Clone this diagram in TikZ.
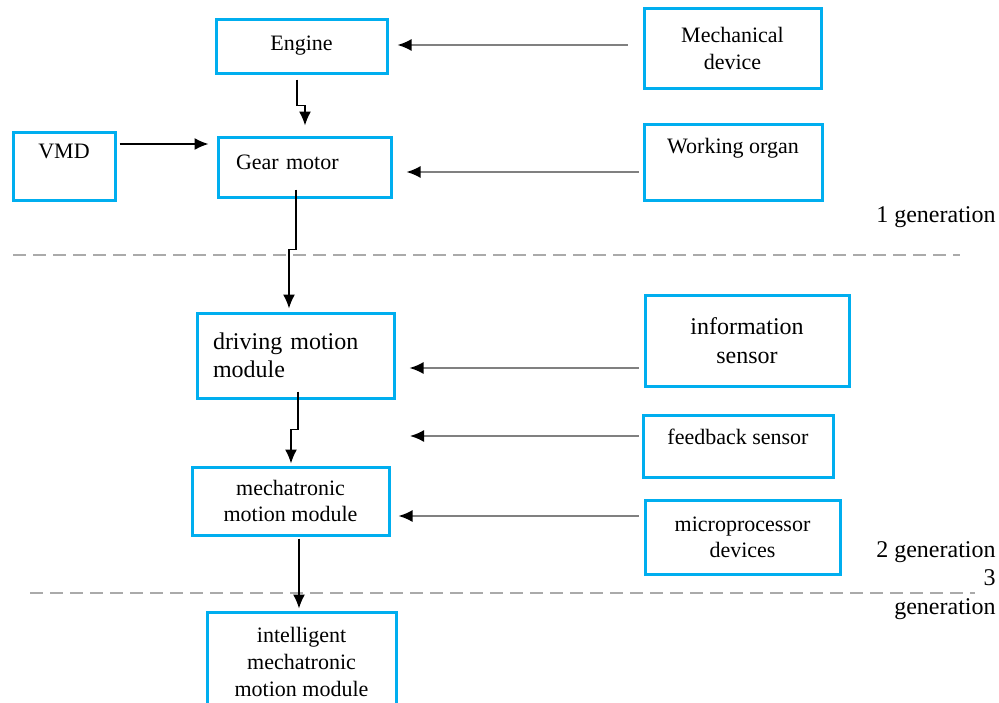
\documentclass[tikz,border=0pt]{standalone}
\usepackage{fontspec}
\setmainfont{Liberation Serif}
\usetikzlibrary{arrows.meta}
\definecolor{cbox}{RGB}{0,174,239}
\definecolor{cline}{RGB}{128,128,128}
\definecolor{cdash}{RGB}{170,170,170}

\begin{document}
\begin{tikzpicture}[
  x = 0.5pt, y = -0.5pt,
  box/.style    = {rectangle, draw=cbox, line width=1.5pt, inner sep=0pt,
                   align=center, font=\fontsize{11}{13.5}\selectfont},
  harr/.style   = {-{Latex[black, length=7pt, width=6pt]}, cline, line width=0.9pt},
  varr/.style   = {-{Latex[length=7pt, width=6pt]}, black, line width=0.7pt},
  sep/.style    = {cdash, line width=1pt, dash pattern=on 6.5pt off 3.5pt},
  genlbl/.style = {anchor=east, align=right, inner sep=0pt,
                   font=\fontsize{12}{14.5}\selectfont},
]
\useasboundingbox (0,0) rectangle (999,702);
\clip (0,0) rectangle (999,702);
\node[box, minimum width=85.5pt, minimum height=27pt] (engine) at (301.5,46) {Engine};
\node[box, minimum width=88.5pt, minimum height=40pt] (mech) at (732.5,48) {Mechanical\\device};
\node[box, minimum width=89pt, minimum height=38pt,
      text height=8pt, text depth=17pt] (organ) at (733,162) {Working organ};
\node[box, minimum width=51pt, minimum height=34pt,
      text height=8pt, text depth=16pt] (vmd) at (64,166) {VMD};
\node[box, align=left, text width=68.5pt, inner xsep=9pt, minimum height=30pt,
      text height=8pt, text depth=6pt] (gear) at (304.5,167) {Gear motor};
\node[box, align=left, text width=82.5pt, inner xsep=8pt, minimum height=42.5pt,
      font=\fontsize{12}{14}\selectfont] (drive) at (295.5,355.5) {driving motion\\module};
\node[box, minimum width=98.5pt, minimum height=34pt,
      font=\fontsize{11}{13}\selectfont] (mecha) at (290.5,501) {mechatronic\\motion module};
\node[box, minimum width=94.5pt, minimum height=50pt] (intel) at (301.5,662) {intelligent\\mechatronic\\motion module};
\node[box, minimum width=102pt, minimum height=45.5pt,
      font=\fontsize{12}{14.5}\selectfont] (info) at (747,340.5) {information\\sensor};
\node[box, minimum width=95pt, minimum height=31pt,
      text height=8pt, text depth=10pt] (fback) at (738,446) {feedback sensor};
\node[box, minimum width=97.5pt, minimum height=37pt,
      font=\fontsize{11}{13}\selectfont] (micro) at (742.5,537) {microprocessor\\devices};
\node[genlbl] (gen1) at (996,217) {1 generation};
\node[genlbl] (gen2) at (996,552) {2 generation};
\node[genlbl] (gen3) at (996,595) {3\\generation};
\coordinate (fbtip) at (410,436);
% generation borders
\draw[sep] (13,255) -- (960,255);
\draw[sep] (30,593) -- (975,593);
% inputs from the right
\draw[harr] ([shift={(-7.5pt,1.5pt)}]mech.west) -- ([shift={(4.5pt,0.5pt)}]engine.east);
\draw[harr] ([shift={(-2pt,-5pt)}]organ.west) -- ([shift={(7pt,-2.5pt)}]gear.east);
\draw[harr] ([shift={(-2.5pt,-13.75pt)}]info.west) -- ([shift={(7pt,-6.25pt)}]drive.east);
\draw[harr] ([shift={(-1.5pt,5pt)}]fback.west) -- (fbtip);
\draw[harr] ([shift={(-2.5pt,10.5pt)}]micro.west) -- ([shift={(4pt,-7.5pt)}]mecha.east);
\draw[varr] ([shift={(1.5pt,11pt)}]vmd.east) -- ([shift={(-4pt,11.5pt)}]gear.west);
% main chain
\draw[varr] ([shift={(-2.25pt,-2.5pt)}]engine.south) -- ++(0,-13pt) -| ([shift={(0.25pt,5pt)}]gear.north);
\draw[varr] ([shift={(-4.25pt,4.5pt)}]gear.south) -- ++(0,-30pt) -| ([shift={(-3.25pt,1.5pt)}]drive.north);
\draw[varr] ([shift={(1.25pt,4pt)}]drive.south) -- ++(0,-19pt) -| ([shift={(0.25pt,1pt)}]mecha.north);
\draw[varr] ([shift={(4.25pt,-1pt)}]mecha.south) -- ([shift={(-1.25pt,1pt)}]intel.north);
\end{tikzpicture}
\end{document}
